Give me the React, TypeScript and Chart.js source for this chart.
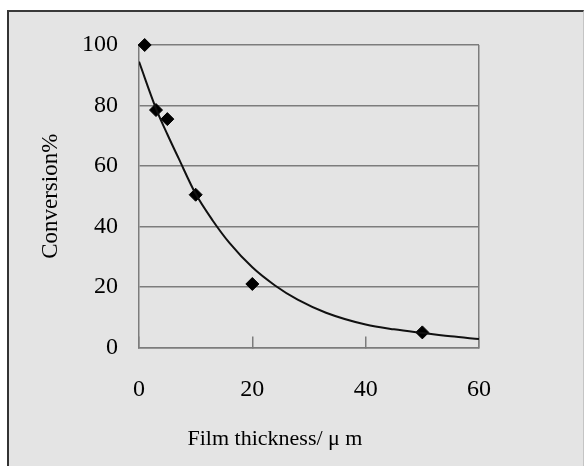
import React, { useEffect, useRef } from "react";
import { Chart, registerables } from "chart.js";

Chart.register(...registerables);

// Measured data points (diamonds)
const pointThickness = [1, 3, 5, 10, 20, 50];
const pointConversion = [100, 78.5, 75.5, 50.5, 21, 5];

// Fitted trend curve
const curveThickness = [0, 3, 5, 7, 10, 13, 16, 20, 24, 28, 33, 40, 45, 50, 55, 60];
const curveConversion = [94.5, 79, 70.5, 62.5, 50.8, 42, 34.5, 26.5, 20.5, 15.8, 11.5, 7.6, 6.0, 4.8, 3.7, 2.8];

const xTicks = [0, 20, 40, 60];
const yTicks = [0, 20, 40, 60, 80, 100];

const xTitle = "Film thickness/ \u03bc m";
const yTitle = "Conversion%";

const FONT = '"Liberation Serif", "Times New Roman", serif';
const GRID = "#7c7c7c";
const TEXT = "#000";

export default function App() {
  const ref = useRef<HTMLCanvasElement | null>(null);

  useEffect(() => {
    if (!ref.current) return;
    const xTitlePlugin = {
      id: "xTitlePlugin",
      afterDraw(chart: any) {
        const { ctx, chartArea } = chart;
        ctx.save();
        ctx.font = `22px ${FONT}`;
        ctx.fillStyle = TEXT;
        ctx.textAlign = "center";
        ctx.textBaseline = "middle";
        ctx.fillText(xTitle, chartArea.left + 0.4 * (chartArea.right - chartArea.left), chartArea.bottom + 92);
        ctx.restore();
      },
    };
    const chart = new Chart(ref.current, {
      type: "scatter",
      data: {
        datasets: [
          {
            type: "line",
            label: "fit",
            data: curveThickness.map((x, i) => ({ x, y: curveConversion[i] })),
            borderColor: "#111",
            borderWidth: 2,
            pointRadius: 0,
            tension: 0.4,
            cubicInterpolationMode: "monotone",
            fill: false,
          } as any,
          {
            type: "scatter",
            label: "data",
            data: pointThickness.map((x, i) => ({ x, y: pointConversion[i] })),
            pointStyle: "rectRot",
            pointRadius: 6.5,
            backgroundColor: "#000",
            borderColor: "#000",
            borderWidth: 1,
            clip: false,
          } as any,
        ],
      },
      options: {
        animation: false,
        responsive: false,
        layout: { padding: { left: 0, right: 108, top: 45, bottom: 0 } },
        plugins: { legend: { display: false }, tooltip: { enabled: false } },
        scales: {
          x: {
            type: "linear",
            min: 0,
            max: 60,
            afterBuildTicks: (s: any) => {
              s.ticks = xTicks.map((v) => ({ value: v }));
            },
            afterFit: (s: any) => {
              s.height = 118.5;
            },
            ticks: {
              color: TEXT,
              font: { family: FONT, size: 24 },
              padding: 39,
              maxRotation: 0,
            },
            grid: {
              color: (c: any) => (c.tick && c.tick.value === 60 ? GRID : "rgba(0,0,0,0)"),
              lineWidth: 1.5,
              tickLength: -11,
              tickColor: GRID,
              tickWidth: 1.5,
            },
            border: { display: true, color: GRID, width: 1.5 },
          },
          y: {
            type: "linear",
            min: 0,
            max: 100,
            afterBuildTicks: (s: any) => {
              s.ticks = yTicks.map((v) => ({ value: v }));
            },
            afterFit: (s: any) => {
              s.width = 139;
            },
            ticks: {
              color: TEXT,
              font: { family: FONT, size: 24 },
              padding: 21,
            },
            grid: { color: GRID, lineWidth: 1.5, drawTicks: false },
            border: { display: true, color: GRID, width: 1.5 },
            title: {
              display: true,
              text: yTitle,
              color: TEXT,
              font: { family: FONT, size: 23 },
              padding: { top: 37, bottom: 0 },
            },
          },
        },
      },
      plugins: [xTitlePlugin],
    });
    return () => chart.destroy();
  }, []);

  return (
    <div style={{ position: "fixed", left: 0, top: 0, width: 587, height: 466, background: "#fff", overflow: "hidden" }}>
      <div
        style={{
          position: "absolute",
          left: 7,
          top: 10,
          width: 574,
          height: 470,
          background: "#e4e4e4",
          borderLeft: "2px solid #333",
          borderTop: "2px solid #3a3a3a",
          borderRight: "1px solid #c4c4c4",
        }}
      />
      <canvas ref={ref} width={587} height={466} style={{ position: "absolute", left: 0, top: 0 }} />
    </div>
  );
}
